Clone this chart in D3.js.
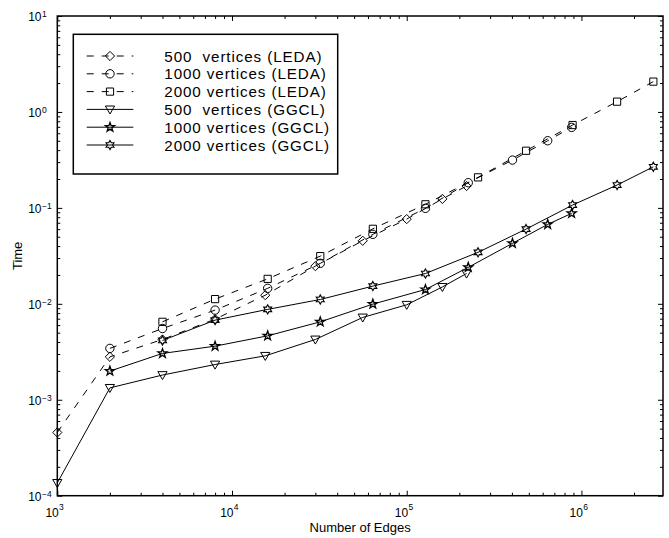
<!DOCTYPE html>
<html>
<head>
<meta charset="utf-8">
<script src="https://cdn.jsdelivr.net/npm/d3@7"></script>
<style>
  body { margin: 0; background: #fff; }
  svg { display: block; }
  text { font-family: "Liberation Sans", Arial, Helvetica, sans-serif; fill: #000; }
</style>
</head>
<body>
<svg id="chart" width="669" height="538"></svg>
<script>
// Edge counts measured for each graph size
const edges500  = [1000, 2000, 4000, 8000, 15500, 30000, 56000, 100000, 160000, 220000];
const edges1000 = [2000, 4000, 8000, 16000, 32000, 64000, 128000, 225000, 403000, 641000, 879000];
const edges2000 = [4000, 8000, 16000, 32000, 64000, 128000, 256000, 482000, 890000, 1600000, 2580000];

// Running times (seconds)
const ledaTime500  = [4.56e-4, 2.80e-3, 4.25e-3, 6.92e-3, 0.0123, 0.0247, 0.0454, 0.0764, 0.124, 0.169];
const ledaTime1000 = [3.43e-3, 5.53e-3, 8.60e-3, 0.0145, 0.0264, 0.0530, 0.0989, 0.183, 0.315, 0.501, 0.690];
const ledaTime2000 = [6.49e-3, 0.0112, 0.0182, 0.0314, 0.0605, 0.109, 0.208, 0.394, 0.73, 1.28, 2.07];
const ggclTime500  = [1.36e-4, 1.33e-3, 1.81e-3, 2.33e-3, 2.87e-3, 4.25e-3, 7.21e-3, 9.77e-3, 0.0150, 0.0207];
const ggclTime1000 = [1.99e-3, 3.04e-3, 3.62e-3, 4.64e-3, 6.49e-3, 9.93e-3, 0.0141, 0.0240, 0.0427, 0.0673, 0.0877];
const ggclTime2000 = [4.15e-3, 6.76e-3, 8.75e-3, 0.0111, 0.0153, 0.0207, 0.0344, 0.0601, 0.107, 0.173, 0.268];

const seriesLabels = [
  "500  vertices (LEDA)", "1000 vertices (LEDA)", "2000 vertices (LEDA)",
  "500  vertices (GGCL)", "1000 vertices (GGCL)", "2000 vertices (GGCL)"
];
const xTickExponents = [3, 4, 5, 6];
const yTickExponents = [-4, -3, -2, -1, 0, 1];
const xTitle = "Number of Edges";
const yTitle = "Time";

const series = [
  { x: edges500,  y: ledaTime500,  dashed: true,  marker: "diamond" },
  { x: edges1000, y: ledaTime1000, dashed: true,  marker: "circle" },
  { x: edges2000, y: ledaTime2000, dashed: true,  marker: "square" },
  { x: edges500,  y: ggclTime500,  dashed: false, marker: "triangleDown" },
  { x: edges1000, y: ggclTime1000, dashed: false, marker: "pentagram" },
  { x: edges2000, y: ggclTime2000, dashed: false, marker: "hexagram" }
];

const plot = { left: 57.3, right: 663, top: 16, bottom: 495.7 };
const svg = d3.select("#chart");

const x = d3.scaleLog().domain([1e3, 2.93e6]).range([plot.left, plot.right]);
const y = d3.scaleLog().domain([1e-4, 10]).range([plot.bottom, plot.top]);

// major and minor tick values per decade
const xMajor = xTickExponents.map(e => Math.pow(10, e));
const yMajor = yTickExponents.map(e => Math.pow(10, e));
const xMinor = [];
xTickExponents.forEach(e => { for (let k = 2; k <= 9; k++) { const v = k * Math.pow(10, e); if (v < x.domain()[1]) xMinor.push(v); } });
const yMinor = [];
yTickExponents.slice(0, -1).forEach(e => { for (let k = 2; k <= 9; k++) yMinor.push(k * Math.pow(10, e)); });

function drawTicks(axisFn, values, size, transform) {
  const g = svg.append("g").attr("transform", transform)
    .call(axisFn.tickValues(values).tickSizeInner(-size).tickSizeOuter(0).tickFormat(() => ""));
  g.select(".domain").remove();
  g.selectAll("line").attr("stroke", "#000").attr("stroke-width", 1);
}
drawTicks(d3.axisBottom(x), xMajor, 5, `translate(0,${plot.bottom})`);
drawTicks(d3.axisBottom(x), xMinor, 3, `translate(0,${plot.bottom})`);
drawTicks(d3.axisTop(x), xMajor, 5, `translate(0,${plot.top})`);
drawTicks(d3.axisTop(x), xMinor, 3, `translate(0,${plot.top})`);
drawTicks(d3.axisLeft(y), yMajor, 5, `translate(${plot.left},0)`);
drawTicks(d3.axisLeft(y), yMinor, 3, `translate(${plot.left},0)`);
drawTicks(d3.axisRight(y), yMajor, 5, `translate(${plot.right},0)`);
drawTicks(d3.axisRight(y), yMinor, 3, `translate(${plot.right},0)`);

// frame
svg.append("rect")
  .attr("x", plot.left).attr("y", plot.top)
  .attr("width", plot.right - plot.left).attr("height", plot.bottom - plot.top)
  .attr("fill", "none").attr("stroke", "#000").attr("stroke-width", 1.5);

// tick labels in power-of-ten form
const xLab = svg.append("g");
xTickExponents.forEach(e => {
  const px = x(Math.pow(10, e));
  xLab.append("text").attr("x", px + 1.5).attr("y", plot.bottom + 21)
    .attr("text-anchor", "end").attr("font-size", 12).text("10");
  xLab.append("text").attr("x", px + 1.8).attr("y", plot.bottom + 14)
    .attr("text-anchor", "start").attr("font-size", 8.5).text(String(e));
});
const yLab = svg.append("g");
yTickExponents.forEach(e => {
  const py = y(Math.pow(10, e));
  yLab.append("text").attr("x", 41.5).attr("y", py + 5.2)
    .attr("text-anchor", "end").attr("font-size", 12).text("10");
  yLab.append("text").attr("x", 42).attr("y", py + 0.8)
    .attr("text-anchor", "start").attr("font-size", 8.5).text(e < 0 ? "\u2212" + (-e) : String(e));
});

// axis titles
svg.append("text").attr("x", (plot.left + plot.right) / 2).attr("y", 532)
  .attr("text-anchor", "middle").attr("font-size", 13).text(xTitle);
svg.append("text").attr("transform", `translate(22,${(plot.top + plot.bottom) / 2}) rotate(-90)`)
  .attr("text-anchor", "middle").attr("font-size", 13).text(yTitle);

// marker shapes
function starPath(n, rOuter, rInner) {
  const pts = [];
  for (let i = 0; i < 2 * n; i++) {
    const a = -Math.PI / 2 + i * Math.PI / n;
    const r = i % 2 === 0 ? rOuter : rInner;
    pts.push([r * Math.cos(a), r * Math.sin(a)]);
  }
  return "M" + pts.map(p => p[0].toFixed(2) + "," + p[1].toFixed(2)).join("L") + "Z";
}
const markerPaths = {
  diamond: "M0,-4.6L4.6,0L0,4.6L-4.6,0Z",
  circle: d3.arc()({ innerRadius: 0, outerRadius: 4.2, startAngle: 0, endAngle: 2 * Math.PI }),
  square: "M-3.6,-3.6L3.6,-3.6L3.6,3.6L-3.6,3.6Z",
  triangleDown: "M-4.6,-3.4L4.6,-3.4L0,4.6Z",
  pentagram: starPath(5, 4.8, 1.9),
  hexagram: starPath(6, 4.6, 2.6)
};
const markerStroke = { pentagram: 1.3, hexagram: 1.1 };

const line = d3.line().x(d => x(d[0])).y(d => y(d[1]));
const dash = "7,8";
const plotG = svg.append("g");
series.forEach(s => {
  const pts = s.x.map((v, i) => [v, s.y[i]]);
  plotG.append("path").datum(pts).attr("d", line)
    .attr("fill", "none").attr("stroke", "#000").attr("stroke-width", 1)
    .attr("stroke-dasharray", s.dashed ? dash : null);
  plotG.selectAll(null).data(pts).enter().append("path")
    .attr("transform", d => `translate(${x(d[0])},${y(d[1])})`)
    .attr("d", markerPaths[s.marker])
    .attr("fill", "none").attr("stroke", "#000").attr("stroke-width", markerStroke[s.marker] || 1);
});

// legend
const legend = svg.append("g");
legend.append("rect").attr("x", 73.3).attr("y", 34.3).attr("width", 264.4).attr("height", 139.7)
  .attr("fill", "#fff").attr("stroke", "#000").attr("stroke-width", 1.5);
series.forEach((s, i) => {
  const ry = 56 + i * 17.8;
  legend.append("line").attr("x1", 86.7).attr("x2", 133.3).attr("y1", ry).attr("y2", ry)
    .attr("stroke", "#000").attr("stroke-width", 1)
    .attr("stroke-dasharray", s.dashed ? dash : null);
  legend.append("path").attr("transform", `translate(110,${ry})`).attr("d", markerPaths[s.marker])
    .attr("fill", "none").attr("stroke", "#000").attr("stroke-width", markerStroke[s.marker] || 1);
  legend.append("text").attr("x", 164.3).attr("y", ry + 5.5).attr("font-size", 15.2)
    .attr("letter-spacing", 0.9)
    .attr("xml:space", "preserve").style("white-space", "pre").text(seriesLabels[i]);
});
</script>
</body>
</html>
